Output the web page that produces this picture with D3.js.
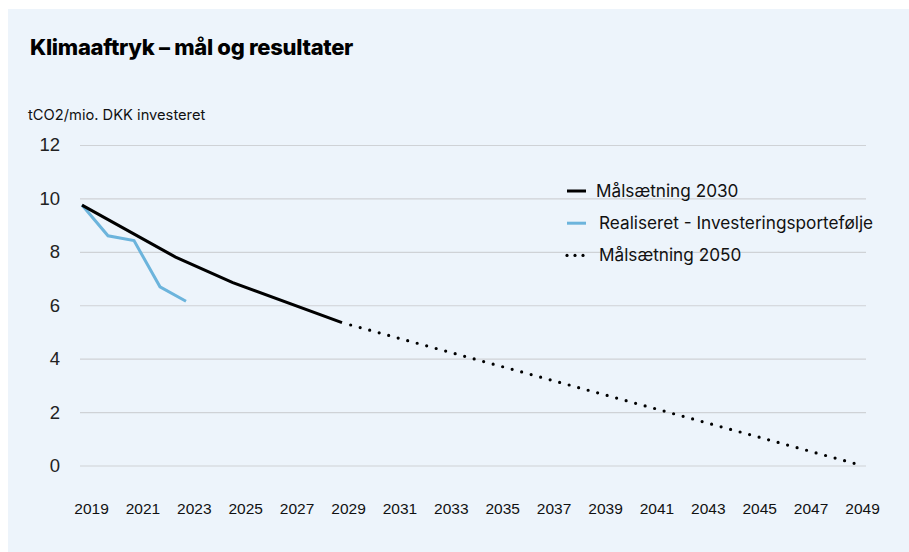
<!DOCTYPE html>
<html>
<head>
<meta charset="utf-8">
<script src="https://cdn.jsdelivr.net/npm/d3@7"></script>
<style>
  body { margin: 0; background: #fff; }
  svg { display: block; }
</style>
</head>
<body>
<div id="chart"><svg width="909" height="552"></svg></div>
<script>
// values
const years = d3.range(2019, 2050, 2);           // tick labels on the x axis
const yTicks = [0, 2, 4, 6, 8, 10, 12];

const target2030 = [
  {year: 2019, value: 9.75},
  {year: 2022.6, value: 7.8},
  {year: 2024.8, value: 6.85},
  {year: 2029, value: 5.35}
];
const realised = [
  {year: 2019, value: 9.75},
  {year: 2020, value: 8.6},
  {year: 2021, value: 8.42},
  {year: 2022, value: 6.69},
  {year: 2023, value: 6.15}
];
const target2050 = [
  {year: 2029, value: 5.35},
  {year: 2049, value: 0}
];

const legendItems = [
  {label: "Målsætning 2030", color: "#000", type: "solid"},
  {label: "Realiseret - Investeringsportefølje", color: "#6cb4dc", type: "solid"},
  {label: "Målsætning 2050", color: "#000", type: "dots"}
];

const svg = d3.select("svg");

// panel
svg.append("rect")
  .attr("x", 8).attr("y", 9)
  .attr("width", 901).attr("height", 543)
  .attr("fill", "#edf4fb");

svg.append("text")
  .attr("x", 30).attr("y", 55)
  .attr("font-family", "Inter")
  .attr("font-weight", 800)
  .attr("font-size", 22)
  .attr("letter-spacing", -0.3)
  .attr("fill", "#000")
  .text("Klimaaftryk – mål og resultater");

svg.append("text")
  .attr("x", 28).attr("y", 120)
  .attr("font-family", "Inter")
  .attr("font-size", 14.7)
  .attr("fill", "#111")
  .text("tCO2/mio. DKK investeret");

const x = d3.scaleLinear().domain([2019, 2049]).range([82, 862]);
const xLabel = d3.scaleLinear().domain([2019, 2049]).range([91, 862]);
const y = d3.scaleLinear().domain([0, 12]).range([465.5, 145]);

// grid
const grid = svg.append("g")
  .attr("transform", "translate(866,0)")
  .call(d3.axisLeft(y).tickValues(yTicks).tickSize(786).tickFormat(""));
grid.select(".domain").remove();
grid.selectAll("line").attr("stroke", "#cfd2d6").attr("stroke-width", 1.2);

// y labels
const yAxis = svg.append("g")
  .attr("transform", "translate(60,0)")
  .call(d3.axisLeft(y).tickValues(yTicks).tickSize(0).tickPadding(0));
yAxis.select(".domain").remove();
yAxis.selectAll("text")
  .attr("font-family", "Liberation Sans")
  .attr("font-size", 18.5)
  .attr("fill", "#222");

// x labels
const xAxis = svg.append("g")
  .attr("transform", "translate(0,514)")
  .call(d3.axisBottom(xLabel).tickValues(years).tickSize(0).tickFormat(d3.format("d")));
xAxis.select(".domain").remove();
xAxis.selectAll("text")
  .attr("y", 0).attr("dy", 0)
  .attr("font-family", "Liberation Sans")
  .attr("font-size", 15.5)
  .attr("fill", "#111");

const line = d3.line().x(d => x(d.year)).y(d => y(d.value));

svg.append("path")
  .datum(target2050)
  .attr("d", line)
  .attr("fill", "none")
  .attr("stroke", "#000")
  .attr("stroke-width", 3.2)
  .attr("stroke-linecap", "round")
  .attr("stroke-dasharray", "0 9.85")
  .attr("stroke-dashoffset", -9);

svg.append("path")
  .datum(realised)
  .attr("d", line)
  .attr("fill", "none")
  .attr("stroke", "#6cb4dc")
  .attr("stroke-width", 3);

svg.append("path")
  .datum(target2030)
  .attr("d", line)
  .attr("fill", "none")
  .attr("stroke", "#000")
  .attr("stroke-width", 3);

// legend
const legend = svg.append("g").attr("transform", "translate(567,191)");
const rows = legend.selectAll("g").data(legendItems).join("g")
  .attr("transform", (d, i) => `translate(0,${i * 32.2})`);
rows.filter(d => d.type === "solid").append("line")
  .attr("x1", 0).attr("x2", 19)
  .attr("stroke", d => d.color)
  .attr("stroke-width", 3);
rows.filter(d => d.type === "dots").selectAll("circle")
  .data([0, 8, 16]).join("circle")
  .attr("cx", d => d).attr("r", 1.6).attr("fill", "#000");
rows.append("text")
  .attr("x", (d, i) => i === 0 ? 29 : 32)
  .attr("y", 6)
  .attr("font-family", "Inter")
  .attr("font-size", 17.2)
  .attr("fill", "#111")
  .text(d => d.label);
</script>
</body>
</html>
